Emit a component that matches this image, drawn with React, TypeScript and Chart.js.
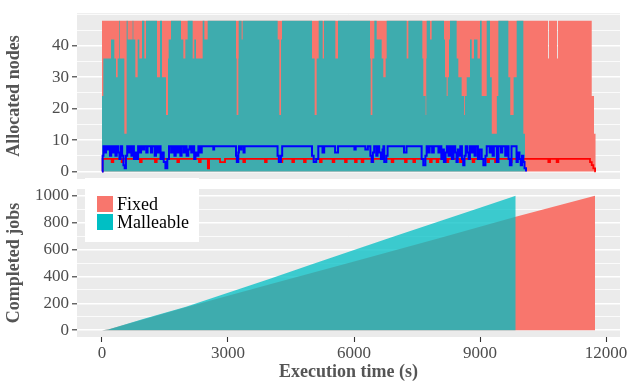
import React, { useEffect, useRef } from 'react';
import { Chart, registerables } from 'chart.js';

Chart.register(...registerables);

// ---------- data ----------
const X_MIN = -595;
const X_MAX = 12333;
const X_TICKS = [0, 3000, 6000, 9000, 12000];

const NODES_MAJOR = [0, 10, 20, 30, 40];
const NODES_MINOR = [5, 15, 25, 35, 45, 50];
const JOBS_MAJOR = [0, 200, 400, 600, 800, 1000];
const JOBS_MINOR = [100, 300, 500, 700, 900];

const SERIES = ['Fixed', 'Malleable'];

// allocated nodes (time s, nodes) – step series
const FIXED_NODES: [number, number][] = [
  [0, 48], [10619, 36], [10640, 48], [10833, 36], [10855, 48],
  [11660, 24], [11714, 12], [11755, 12],
];

const MALLEABLE_NODES: [number, number][] = [
  [0, 24], [32, 36], [214, 42], [294, 36], [333, 30], [373, 36], [413, 48],
  [429, 36], [532, 12], [587, 48], [611, 42], [730, 48], [746, 42], [794, 30],
  [849, 42], [889, 36], [952, 48], [1008, 36], [1048, 48], [1310, 30], [1381, 48],
  [1429, 30], [1524, 18], [1571, 36], [1587, 42], [1643, 48], [1881, 42], [1937, 36],
  [1984, 42], [2040, 48], [2159, 36], [2198, 42], [2238, 36], [2397, 48], [2437, 42],
  [2516, 48], [3190, 36], [3206, 18], [3246, 36], [3254, 48], [3325, 42], [3349, 48],
  [4183, 42], [4222, 18], [4262, 42], [4286, 48], [5000, 36], [5063, 18], [5111, 36],
  [5159, 48], [5254, 36], [5286, 48], [5556, 36], [5619, 48], [6381, 36], [6397, 18],
  [6437, 36], [6484, 48], [6540, 42], [6659, 36], [6698, 30], [6754, 36], [6778, 48],
  [7254, 36], [7294, 48], [7627, 36], [7651, 24], [7706, 18], [7720, 36], [7730, 48],
  [7810, 42], [7849, 48], [8143, 42], [8167, 30], [8206, 24], [8230, 30], [8262, 42],
  [8286, 48], [8444, 36], [8484, 30], [8563, 24], [8620, 18], [8640, 24], [8683, 30],
  [8762, 42], [8802, 36], [8857, 42], [8881, 42], [8940, 36], [9000, 48], [9040, 24],
  [9159, 48], [9238, 30], [9280, 12], [9400, 24], [9437, 48], [9675, 30], [9720, 18],
  [9800, 30], [9873, 48], [10032, 12], [10071, 12],
];

const MALLEABLE_LINE: [number, number][] = [
  [0, 0], [15, 5], [35, 8], [70, 6], [95, 8], [130, 7], [160, 8], [190, 5], [220, 8],
  [255, 6], [285, 8], [320, 5], [350, 8], [385, 6], [415, 4], [445, 8], [480, 5],
  [510, 2], [540, 1], [570, 5], [600, 8], [635, 6], [665, 8], [700, 5], [730, 8],
  [760, 4], [795, 6], [830, 4], [860, 8], [900, 6], [930, 8], [975, 7], [1005, 8],
  [1055, 6], [1085, 8], [1165, 6], [1195, 8], [1255, 5], [1285, 8], [1325, 6],
  [1355, 8], [1395, 4], [1435, 6], [1470, 3], [1510, 1], [1555, 4], [1595, 8],
  [1645, 6], [1685, 8], [1725, 5], [1755, 8], [1795, 6], [1825, 8], [1865, 5],
  [1895, 8], [1945, 6], [1975, 8], [2015, 5], [2055, 7], [2085, 8], [2125, 6],
  [2155, 8], [2195, 4], [2225, 6], [2255, 5], [2295, 8], [2335, 6], [2375, 8],
  [2650, 7], [2670, 8], [3190, 5], [3210, 3], [3245, 6], [3260, 8], [3300, 7],
  [3320, 8], [3370, 6], [3395, 8], [4180, 5], [4210, 3], [4260, 5], [4290, 8],
  [5000, 5], [5040, 3], [5100, 4], [5150, 8], [5250, 6], [5290, 8], [5550, 6],
  [5620, 8], [6010, 7], [6040, 8], [6270, 7], [6330, 8], [6390, 5], [6420, 3],
  [6450, 6], [6480, 8], [6530, 5], [6560, 8], [6600, 6], [6640, 4], [6680, 7],
  [6700, 8], [6720, 3], [6770, 5], [6800, 8], [7190, 6], [7250, 8], [7610, 4],
  [7650, 2], [7700, 5], [7730, 8], [7770, 6], [7800, 8], [7860, 6], [7900, 8],
  [8010, 6], [8040, 8], [8080, 4], [8110, 7], [8140, 3], [8180, 6], [8210, 8],
  [8250, 5], [8290, 8], [8330, 4], [8370, 8], [8410, 6], [8440, 3], [8470, 7],
  [8500, 5], [8530, 8], [8570, 4], [8600, 2], [8630, 5], [8660, 8], [8700, 6],
  [8730, 4], [8760, 8], [8800, 6], [8830, 8], [8870, 5], [8900, 8], [8950, 4],
  [8990, 7], [9040, 4], [9080, 2], [9130, 5], [9160, 8], [9230, 6], [9260, 8],
  [9300, 5], [9330, 8], [9400, 3], [9440, 8], [9500, 6], [9530, 8], [9600, 5],
  [9640, 8], [9680, 4], [9710, 2], [9750, 8], [9870, 3], [9900, 6], [9940, 4],
  [9970, 2], [10000, 5], [10030, 3], [10060, 1], [10095, 0],
];

const FIXED_LINE: [number, number][] = [
  [0, 0], [15, 4], [230, 3], [270, 4], [468, 3], [508, 4], [905, 3], [945, 4],
  [1262, 3], [1302, 4], [1794, 3], [1834, 4], [2310, 3], [2350, 4], [2520, 1],
  [2550, 4], [2810, 3], [2929, 4], [3365, 3], [3405, 4], [3881, 3], [3921, 4],
  [4254, 3], [4294, 4], [4532, 3], [4572, 4], [4810, 3], [4850, 4], [5190, 3],
  [5230, 4], [5492, 3], [5532, 4], [5786, 3], [5826, 4], [6024, 3], [6064, 4],
  [6183, 3], [6223, 4], [6421, 3], [6461, 4], [6897, 3], [6937, 4], [7214, 3],
  [7254, 4], [7413, 3], [7453, 4], [7810, 3], [7850, 4], [7968, 3], [8008, 4],
  [8206, 3], [8246, 4], [8524, 3], [8564, 4], [8825, 3], [8865, 4], [9175, 3],
  [9215, 4], [9357, 3], [9397, 4], [9714, 3], [9754, 4], [9992, 3], [10032, 4],
  [10627, 3], [10667, 4], [10825, 3], [10865, 4], [11619, 3], [11660, 2],
  [11698, 1], [11740, 0], [11755, 0],
];

// completed jobs (time s, jobs)
const FIXED_DONE: [number, number][] = [
  [0, 0], [150, 5], [2000, 172], [4000, 342], [6000, 512], [8000, 683],
  [9850, 843], [11740, 1000],
];
const MALLEABLE_DONE: [number, number][] = [
  [0, 0], [150, 5], [1000, 85], [2000, 175], [3000, 278], [4000, 383],
  [5000, 490], [6000, 596], [7000, 702], [8000, 806], [9000, 910], [9850, 1000],
];

// ---------- styling ----------
const FONT = "'Liberation Serif', 'Times New Roman', serif";
const FILL = { Fixed: '#F8766D', Malleable: 'rgba(0,191,196,0.75)' } as Record<string, string>;
const KEY = { Fixed: '#F8766D', Malleable: '#00BFC4' } as Record<string, string>;
const AXIS_W = 77;

const toXY = (arr: [number, number][]) => arr.map(([x, y]) => ({ x, y }));

const panelBg = {
  id: 'panelBg',
  beforeDraw(chart: any) {
    const { ctx, chartArea: a } = chart;
    ctx.save();
    ctx.fillStyle = '#EBEBEB';
    ctx.fillRect(a.left, a.top, a.right - a.left, a.bottom - a.top);
    ctx.restore();
  },
};

const legendBox = {
  id: 'legendBox',
  afterDraw(chart: any) {
    const { ctx, chartArea: a } = chart;
    const x0 = a.left + 8;
    const y0 = a.top - 11;
    ctx.save();
    ctx.fillStyle = '#FFFFFF';
    ctx.fillRect(x0, y0, 114, 64);
    ctx.font = `18px ${FONT}`;
    ctx.textBaseline = 'alphabetic';
    SERIES.forEach((name, i) => {
      const ky = y0 + 18 + i * 18;
      ctx.fillStyle = KEY[name];
      ctx.fillRect(x0 + 12, ky, 16, 16);
      ctx.fillStyle = '#000000';
      ctx.fillText(name, x0 + 32, ky + 14);
    });
    ctx.restore();
  },
};

function yScale(min: number, max: number, major: number[], minor: number[], title: string) {
  const all = [...major, ...minor].sort((a, b) => a - b);
  return {
    type: 'linear',
    min,
    max,
    afterBuildTicks: (s: any) => {
      s.ticks = all.map((v) => ({ value: v }));
    },
    afterFit: (s: any) => {
      s.width = AXIS_W;
    },
    ticks: {
      autoSkip: false,
      color: '#4D4D4D',
      font: { family: FONT, size: 17 },
      padding: 3,
      callback: (v: number) => (major.includes(v) ? String(v) : ''),
    },
    grid: {
      color: '#FFFFFF',
      lineWidth: (c: any) => (major.includes(c.tick?.value) ? 1.6 : 0.8),
      tickColor: (c: any) => (major.includes(c.tick?.value) ? '#333333' : 'rgba(0,0,0,0)'),
      tickWidth: 1.1,
      tickLength: 5,
      drawTicks: true,
    },
    border: { display: false },
    title: {
      display: true,
      text: title,
      color: '#555555',
      font: { family: FONT, size: 18, weight: 'bold' },
      padding: { top: 4, bottom: 0 },
    },
  };
}

const areaDs = (label: string, data: [number, number][], stepped: boolean) => ({
  label,
  data: toXY(data),
  stepped,
  fill: 'origin',
  backgroundColor: FILL[label],
  borderColor: 'rgba(0,0,0,0)',
  borderWidth: 0,
  pointRadius: 0,
  tension: 0,
});

const lineDs = (label: string, data: [number, number][], color: string, width: number) => ({
  label,
  data: toXY(data),
  stepped: true,
  fill: false,
  borderColor: color,
  borderWidth: width,
  pointRadius: 0,
  tension: 0,
});

export default function App() {
  const topRef = useRef<HTMLCanvasElement>(null);
  const botRef = useRef<HTMLCanvasElement>(null);

  useEffect(() => {
    Chart.defaults.font.family = FONT;
    const common: any = {
      responsive: false,
      animation: false,
      plugins: { legend: { display: false }, tooltip: { enabled: false } },
      elements: { point: { radius: 0 } },
    };

    const top = new Chart(topRef.current!, {
      type: 'line',
      data: {
        datasets: [
          lineDs('Malleable line', MALLEABLE_LINE, '#0000FF', 2),
          lineDs('Fixed line', FIXED_LINE, '#FF0000', 1.8),
          areaDs('Malleable', MALLEABLE_NODES, true),
          areaDs('Fixed', FIXED_NODES, true),
        ],
      },
      options: {
        ...common,
        layout: { padding: { top: 9, bottom: 204, left: 0, right: 10 } },
        scales: {
          x: { type: 'linear', min: X_MIN, max: X_MAX, display: false },
          y: yScale(-2.4, 50.4, NODES_MAJOR, NODES_MINOR, 'Allocated nodes'),
        },
      },
      plugins: [panelBg],
    } as any);

    const bot = new Chart(botRef.current!, {
      type: 'line',
      data: {
        datasets: [
          areaDs('Malleable', MALLEABLE_DONE, false),
          areaDs('Fixed', FIXED_DONE, false),
        ],
      },
      options: {
        ...common,
        layout: { padding: { top: 189, bottom: 0, left: 0, right: 10 } },
        scales: {
          x: {
            type: 'linear',
            min: X_MIN,
            max: X_MAX,
            afterBuildTicks: (s: any) => {
              s.ticks = X_TICKS.map((v) => ({ value: v }));
            },
            afterFit: (s: any) => {
              s.height = 46;
            },
            ticks: {
              autoSkip: false,
              maxRotation: 0,
              color: '#4D4D4D',
              font: { family: FONT, size: 17 },
              padding: 1,
              callback: (v: number) => String(v),
            },
            grid: {
              drawOnChartArea: false,
              tickColor: '#333333',
              tickWidth: 1.1,
              tickLength: 5,
            },
            border: { display: false },
            title: {
              display: true,
              text: 'Execution time (s)',
              color: '#555555',
              font: { family: FONT, size: 18, weight: 'bold' },
              padding: { top: 0, bottom: 0 },
            },
          },
          y: yScale(-50, 1050, JOBS_MAJOR, JOBS_MINOR, 'Completed jobs'),
        },
      },
      plugins: [panelBg, legendBox],
    } as any);

    return () => {
      top.destroy();
      bot.destroy();
    };
  }, []);

  return (
    <div style={{ position: 'fixed', left: 0, top: 0, width: 630, height: 383, background: '#FFFFFF' }}>
      <canvas ref={topRef} width={630} height={383} style={{ position: 'absolute', left: 0, top: 0 }} />
      <canvas ref={botRef} width={630} height={383} style={{ position: 'absolute', left: 0, top: 0 }} />
    </div>
  );
}
